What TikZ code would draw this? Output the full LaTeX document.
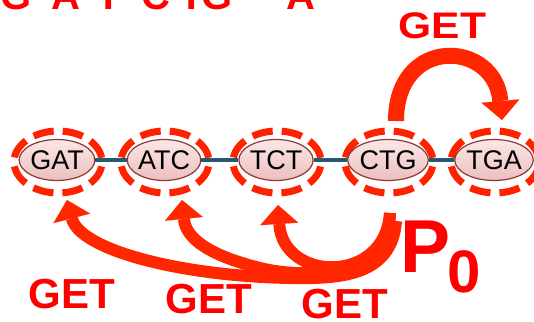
\documentclass[tikz,border=0pt]{standalone}
\usepackage{fontspec}
\setmainfont{Liberation Sans}
\usepackage{graphicx}
\usetikzlibrary{shapes.geometric,arrows.meta,calc}
\definecolor{arrowred}{RGB}{255,38,0}
\definecolor{txtred}{RGB}{255,0,0}
\definecolor{ringred}{RGB}{255,34,0}
\definecolor{linkteal}{RGB}{36,90,114}
\definecolor{kmerborder}{RGB}{140,58,50}
\definecolor{kmertop}{RGB}{251,232,232}
\definecolor{kmerbot}{RGB}{236,190,190}
\pgfdeclarelayer{bg}
\pgfsetlayers{bg,main}
\begin{document}
\begin{tikzpicture}[x=1pt,y=-1pt,
  kmer/.style={ellipse, draw=kmerborder, line width=1.2pt,
    top color=kmertop, bottom color=kmerbot,
    minimum width=73pt, minimum height=41pt, inner sep=0pt,
    font=\fontsize{27}{30}\selectfont},
  ring/.style={draw=ringred, line width=7pt,
    dash pattern=on 20.7pt off 9pt, dash phase=25.2pt},
  link/.style={draw=linkteal, line width=4pt},
  bigarrow/.style={draw=arrowred, line width=#1,
    -{Triangle[length=19pt,width=38pt,line width=0.1pt]}},
  bigarrow/.default=12pt,
  gettext/.style={text=txtred, font=\bfseries\fontsize{42}{46}\selectfont,
    anchor=base, inner sep=0pt},
  letter/.style={text=txtred, font=\bfseries\fontsize{40}{44}\selectfont,
    anchor=base, inner sep=0pt}]
\useasboundingbox (0,0) rectangle (534,321);

% sequence letters along the top edge
\node[letter] (l1) at (16,10) {G};
\node[letter] (l2) at (66,10) {A};
\node[letter] (l3) at (108.5,10) {T};
\node[letter] (l4) at (156,10) {C};
\node[letter] (l5) at (191.5,10) {T};
\node[letter] (l6) at (217.5,10) {G};
\node[letter] (l7) at (300.5,10) {A};

% k-mer nodes
\node[kmer] (gat) at (57,160) {GAT};
\node[kmer] (atc) at (164,160) {ATC};
\node[kmer] (tct) at (276,160) {TCT};
\node[kmer] (ctg) at (388,160) {CTG};
\node[kmer] (tga) at (494,160) {TGA};

\begin{pgfonlayer}{bg}
  \foreach \k in {gat,atc,tct,ctg,tga}
    \draw[ring] (\k.center) ++(1,2) ellipse [x radius=44, y radius=31];
  \draw[link] (gat) -- (atc);
  \draw[link] (atc) -- (tct);
  \draw[link] (tct) -- (ctg);
  \draw[link] (ctg) -- (tga);
\end{pgfonlayer}

% GET arrow from CTG over to TGA
\draw[bigarrow=16pt] ($(ctg)+(8,-39)$) .. controls (396,35) and (495,40) .. ($(tga)+(8,-40)$);

% GET arrows from CTG back to earlier k-mers
\coordinate (tailA) at ($(ctg)+(2,53)$);
\coordinate (tailB) at ($(ctg)+(8,61)$);
\draw[bigarrow] (tailB) .. controls (392,276) and (340,279) .. (290,278)
  .. controls (180,276) and (80,250) .. ($(gat)+(10,40)$);
\draw[bigarrow] (tailA) .. controls (388,280) and (300,278) .. (260,268)
  .. controls (212,256) and (186,240) .. ($(atc)+(18,40)$);
\draw[bigarrow] (tailA) .. controls (385,285) and (283,282) .. ($(tct)+(2,45)$);

% labels
\node[gettext, font=\bfseries\fontsize{37}{40}\selectfont] (get0) at (442.5,38) {\scalebox{1.15}[1]{GET}};
\node[gettext] (get1) at (71.5,308) {GET};
\node[gettext] (get2) at (208.5,313) {GET};
\node[gettext] (get3) at (344.5,318) {GET};
\node[gettext, anchor=base west, font=\bfseries\fontsize{75}{80}\selectfont] (p) at (400,272) {P};
\node[gettext, font=\bfseries\fontsize{60}{64}\selectfont] (sub) at (464.5,292) {0};
\end{tikzpicture}
\end{document}
